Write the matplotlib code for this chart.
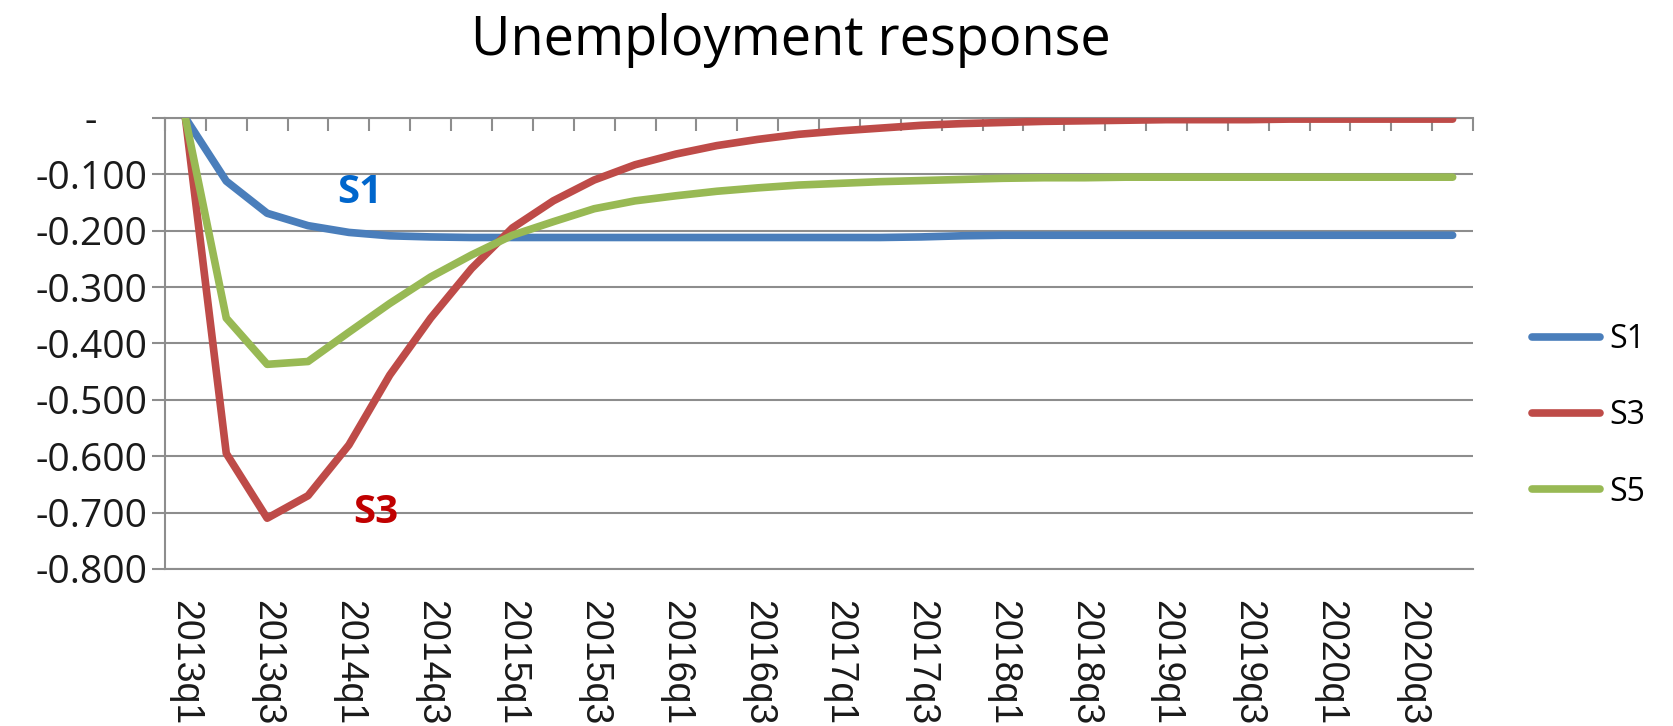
"""Unemployment response chart (S1 / S3 / S5 scenarios)"""

import matplotlib

matplotlib.use("Agg")
import matplotlib.pyplot as plt
from matplotlib.ticker import FixedLocator

# quarters 2013q1 .. 2020q4
quarters = [f"{y}q{q}" for y in range(2013, 2021) for q in range(1, 5)]

s1 = [0.000, -0.112, -0.169, -0.191, -0.203, -0.209, -0.211, -0.212,
      -0.212, -0.212, -0.212, -0.212, -0.212, -0.212, -0.212, -0.212,
      -0.212, -0.212, -0.211, -0.209, -0.208, -0.208, -0.208, -0.208,
      -0.208, -0.208, -0.208, -0.208, -0.208, -0.208, -0.208, -0.208]
s3 = [0.000, -0.595, -0.710, -0.670, -0.580, -0.456, -0.355, -0.267,
      -0.195, -0.147, -0.110, -0.083, -0.064, -0.049, -0.038, -0.029,
      -0.023, -0.018, -0.013, -0.010, -0.008, -0.006, -0.005, -0.004,
      -0.003, -0.003, -0.003, -0.002, -0.002, -0.002, -0.002, -0.002]
s5 = [0.000, -0.355, -0.437, -0.432, -0.380, -0.329, -0.282, -0.243,
      -0.208, -0.184, -0.161, -0.147, -0.138, -0.130, -0.124, -0.119,
      -0.116, -0.113, -0.111, -0.109, -0.107, -0.106, -0.106, -0.105,
      -0.105, -0.105, -0.105, -0.105, -0.105, -0.105, -0.105, -0.105]

series = [("S1", s1, "#4a7ebb"), ("S3", s3, "#be4b48"), ("S5", s5, "#98b954")]
yticks = [0.0, -0.1, -0.2, -0.3, -0.4, -0.5, -0.6, -0.7, -0.8]
ytick_labels = ["-     ", "-0.100", "-0.200", "-0.300", "-0.400",
                "-0.500", "-0.600", "-0.700", "-0.800"]

GRID = "#8d8d8d"
TXT = "#1a1a1a"

fig = plt.figure(figsize=(16.73, 7.26), dpi=100)
ax = fig.add_axes([0.0986, 0.2163, 0.7819, 0.6212])

x = list(range(len(quarters)))
for name, vals, color in series:
    ax.plot(x, vals, color=color, lw=5.5, label=name,
            solid_capstyle="round", solid_joinstyle="round", zorder=3)

ax.set_xlim(-0.5, len(quarters) - 0.5)
ax.set_ylim(-0.8, 0.0)

# y axis: gridlines + outward ticks
ax.set_yticks(yticks)
ax.set_yticklabels(ytick_labels, fontfamily="Open Sans", fontsize=28, color=TXT)
ax.yaxis.grid(True, color=GRID, lw=1.5)
ax.tick_params(axis="y", direction="out", length=9.5, width=1.5, color=GRID, pad=3)

# x axis: labels every second quarter at the bottom, category ticks on the zero line
ax.set_xticks(x[::2])
ax.set_xticklabels(quarters[::2], rotation=-90, fontfamily="Liberation Sans",
                   fontsize=27, color=TXT, va="top", ha="center")
ax.tick_params(axis="x", which="major", length=0, pad=22)
ax.xaxis.set_minor_locator(FixedLocator([i - 0.5 for i in range(len(quarters) + 1)]))
ax.tick_params(axis="x", which="minor", top=True, bottom=False, direction="in",
               length=9, width=1.5, color=GRID)

for side in ("top", "bottom", "left"):
    ax.spines[side].set_color(GRID)
    ax.spines[side].set_linewidth(1.5)
ax.spines["right"].set_visible(False)

ax.text(4.27, -0.133, "S1", color="#0066cc", fontsize=29, fontweight="bold",
        fontfamily="Open Sans", ha="center", va="center")
ax.text(4.66, -0.699, "S3", color="#c00000", fontsize=29, fontweight="bold",
        fontfamily="Open Sans", ha="center", va="center")

fig.text(0.473, 0.944, "Unemployment response", fontfamily="Open Sans",
         fontsize=39, color="black", ha="center", va="center")

fig.legend(loc="center left", bbox_to_anchor=(0.916, 0.427), frameon=False,
           prop={"family": "Open Sans", "size": 23}, handlelength=2.1,
           handletextpad=0.3, labelspacing=1.35, borderpad=0, borderaxespad=0)

fig.savefig("out.png", dpi=100)
